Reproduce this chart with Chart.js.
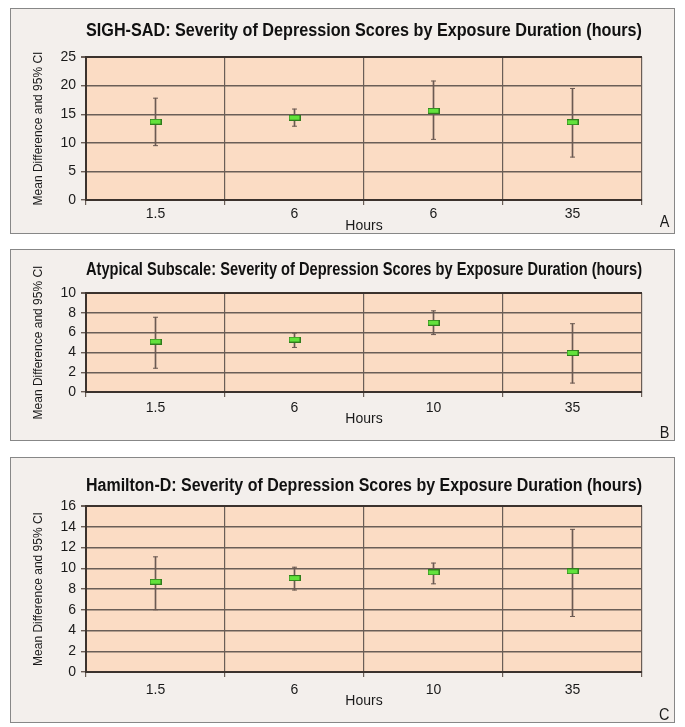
<!DOCTYPE html>
<html lang="en">
<head>
<meta charset="UTF-8">
<title>Severity of Depression Scores by Exposure Duration</title>
<script src="https://cdn.jsdelivr.net/npm/chart.js"></script>
<style>
    body{margin:0;background:#fff;width:685px;height:727px;position:relative;overflow:hidden;}
    .panel{position:absolute;left:10px;width:665px;background:#f3efec;border:1.5px solid #878787;box-sizing:border-box;}
    .panel canvas{position:absolute;left:0;top:0;}
    .letra{position:absolute;right:4px;font-family:"Liberation Sans",Arial,sans-serif;font-size:17px;color:#1a1a1a;transform:scaleX(0.85);}
</style>
</head>
<body>
    <div class="panel" id="painelA" style="top:8px;height:226px;">
        <canvas id="graficoA"></canvas>
        <span class="letra" style="top:203px;">A</span>
    </div>
    <div class="panel" id="painelB" style="top:249px;height:192px;">
        <canvas id="graficoB"></canvas>
        <span class="letra" style="top:173px;">B</span>
    </div>
    <div class="panel" id="painelC" style="top:457px;height:266px;">
        <canvas id="graficoC"></canvas>
        <span class="letra" style="top:247px;">C</span>
    </div>
<script>
    // SIGH-SAD
    const hoursA = ['1.5', '6', '6', '35']
    const meanA = [13.7, 14.4, 15.6, 13.6]
    const lowA = [9.5, 12.9, 10.6, 7.5]
    const highA = [17.8, 15.9, 20.8, 19.5]

    // Atypical subscale
    const hoursB = ['1.5', '6', '10', '35']
    const meanB = [5.1, 5.3, 7.0, 3.95]
    const lowB = [2.4, 4.5, 5.8, 0.9]
    const highB = [7.55, 5.95, 8.2, 6.9]

    // Hamilton-D
    const hoursC = ['1.5', '6', '10', '35']
    const meanC = [8.7, 9.05, 9.6, 9.7]
    const lowC = [6.0, 7.9, 8.5, 5.35]
    const highC = [11.1, 10.1, 10.5, 13.75]

    const fonte = '"Liberation Sans", Arial, sans-serif'
    const corLinha = '#6a5e57'
    const corBorda = '#3b322d'
    const corBarra = '#6b5a52'

    // green mean marker
    const marcador = document.createElement('canvas')
    marcador.width = 12
    marcador.height = 6
    const mctx = marcador.getContext('2d')
    mctx.fillStyle = '#2f7d1c'
    mctx.fillRect(0, 0, 12, 6)
    mctx.fillStyle = '#62e23c'
    mctx.fillRect(1, 1, 10, 4)

    const fundoPlot = {
        id: 'fundoPlot',
        beforeDraw(chart) {
            const a = chart.chartArea
            const c = chart.ctx
            c.save()
            c.fillStyle = '#fbdcc4'
            c.fillRect(a.left, a.top, a.right - a.left, a.bottom - a.top)
            c.restore()
        }
    }

    function criarGrafico(id, altura, titulo, horas, media, baixo, alto, maximo, passo, ajuste) {
        const canvas = document.getElementById(id)
        canvas.width = 664
        canvas.height = altura
        canvas.style.width = '664px'
        canvas.style.height = altura + 'px'

        return new Chart(canvas, {
            data: {
                labels: horas,
                datasets: [{
                    type: 'line',
                    label: 'Média',
                    data: media,
                    showLine: false,
                    pointStyle: marcador,
                    order: 0
                },
                {
                    type: 'line',
                    label: 'IC superior',
                    data: alto,
                    showLine: false,
                    pointStyle: 'line',
                    pointRadius: 2.5,
                    borderColor: corBarra,
                    pointBorderWidth: 1,
                    order: 1
                },
                {
                    type: 'line',
                    label: 'IC inferior',
                    data: baixo,
                    showLine: false,
                    pointStyle: 'line',
                    pointRadius: 2.5,
                    borderColor: corBarra,
                    pointBorderWidth: 1,
                    order: 1
                },
                {
                    type: 'bar',
                    label: 'IC',
                    data: baixo.map((b, i) => [b, alto[i]]),
                    backgroundColor: corBarra,
                    borderWidth: 0,
                    barThickness: 1,
                    order: 2
                }]
            },
            options: {
                responsive: false,
                animation: false,
                events: [],
                layout: { padding: { left: 0, right: 33, top: 0, bottom: 0 } },
                plugins: {
                    legend: { display: false },
                    tooltip: { enabled: false },
                    title: {
                        display: true,
                        text: titulo,
                        fullSize: false,
                        color: '#111',
                        font: { family: fonte, size: 18, weight: 'bold', lineHeight: 1.2 },
                        padding: { top: ajuste.tituloTopo, bottom: ajuste.tituloBase }
                    }
                },
                scales: {
                    x: {
                        offset: true,
                        grid: {
                            offset: true,
                            color: ctx => ctx.index === horas.length ? corBorda : corLinha,
                            lineWidth: ctx => ctx.index === horas.length ? 2 : 1.2,
                            tickLength: 5,
                            tickColor: corLinha
                        },
                        border: { display: true, color: corBorda, width: 2 },
                        ticks: { color: '#1a1a1a', font: { family: fonte, size: 14 }, padding: ajuste.xPad },
                        title: {
                            display: true,
                            text: 'Hours',
                            color: '#1a1a1a',
                            font: { family: fonte, size: 14, lineHeight: 1.2 },
                            padding: { top: 0, bottom: ajuste.horasBase }
                        },
                        afterFit(scale) { scale.height = ajuste.xAltura }
                    },
                    y: {
                        min: 0,
                        max: maximo,
                        ticks: { stepSize: passo, color: '#1a1a1a', font: { family: fonte, size: 14 }, padding: 5 },
                        grid: {
                            color: ctx => ctx.tick && ctx.tick.value === maximo ? corBorda : corLinha,
                            lineWidth: ctx => ctx.tick && ctx.tick.value === maximo ? 2 : 1.4,
                            tickLength: 5,
                            tickColor: corLinha
                        },
                        border: { display: true, color: corBorda, width: 2 },
                        title: {
                            display: true,
                            text: 'Mean Difference and 95% CI',
                            color: '#1a1a1a',
                            font: { family: fonte, size: 12, lineHeight: 1.2 },
                            padding: { top: 20, bottom: 0 }
                        },
                        afterFit(scale) { scale.width = 75 }
                    }
                }
            },
            plugins: [fundoPlot]
        })
    }

    const graficoA = criarGrafico('graficoA', 226,
        'SIGH-SAD: Severity of Depression Scores by Exposure Duration (hours)',
        hoursA, meanA, lowA, highA, 25, 5,
        { tituloTopo: 11, tituloBase: 15.4, xPad: 1, horasBase: 0, xAltura: 35 })

    const graficoB = criarGrafico('graficoB', 192,
        'Atypical Subscale: Severity of Depression Scores by Exposure Duration (hours)',
        hoursB, meanB, lowB, highB, 10, 2,
        { tituloTopo: 9, tituloBase: 12.4, xPad: 3, horasBase: 14, xAltura: 50 })

    const graficoC = criarGrafico('graficoC', 266,
        'Hamilton-D: Severity of Depression Scores by Exposure Duration (hours)',
        hoursC, meanC, lowC, highC, 16, 2,
        { tituloTopo: 17, tituloBase: 9.4, xPad: 5, horasBase: 14, xAltura: 52 })
</script>
</body>
</html>
